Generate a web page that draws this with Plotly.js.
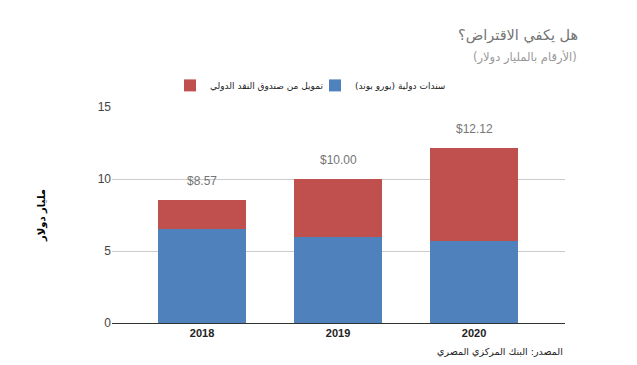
<!DOCTYPE html>
<html>
<head>
<meta charset="utf-8">
<script src="https://cdn.plot.ly/plotly-3.0.1.min.js"></script>
<style>html,body{margin:0;padding:0;background:#fff;}#chart{width:637px;height:365px;}</style>
</head>
<body>
<div id="chart"></div>
<script>
const years = ['2018', '2019', '2020'];
const eurobonds = [6.50, 6.00, 5.70];
const imfFunding = [2.07, 4.00, 6.42];
const seriesNames = ['سندات دولية (يورو بوند)', 'تمويل من صندوق النقد الدولي'];
const yTicks = [0, 5, 10, 15];

const totals = years.map((_, i) => eurobonds[i] + imfFunding[i]);
const latin = 'Liberation Sans, Arial, DejaVu Sans, sans-serif';
const arabic = 'DejaVu Sans, sans-serif';

const traces = [
  {type: 'bar', x: years, y: eurobonds, name: seriesNames[0], marker: {color: '#4F81BD'}, hoverinfo: 'none'},
  {type: 'bar', x: years, y: imfFunding, name: seriesNames[1], marker: {color: '#C0504D'}, hoverinfo: 'none'}
];

const annotations = years.map((yr, i) => ({
  x: i, y: totals[i], xref: 'x', yref: 'y', text: '$' + totals[i].toFixed(2),
  showarrow: false, yanchor: 'bottom', yshift: 10,
  font: {family: latin, size: 12, color: '#757575'}
}));

annotations.push(
  {xref: 'paper', yref: 'paper', x: 1.034, y: 1.33, xanchor: 'right', yanchor: 'middle', showarrow: false,
   text: 'هل يكفي الاقتراض؟', font: {family: arabic, size: 14.5, color: '#757575'}},
  {xref: 'paper', yref: 'paper', x: 1.03, y: 1.23, xanchor: 'right', yanchor: 'middle', showarrow: false,
   text: '(الأرقام بالمليار دولار)', font: {family: arabic, size: 11.5, color: '#999'}},
  {xref: 'paper', yref: 'paper', x: 1.0, y: -0.13, xanchor: 'right', yanchor: 'middle', showarrow: false,
   text: 'المصدر: البنك المركزي المصري', font: {family: arabic, size: 9.5, color: '#222'}}
);

const layout = {
  width: 637, height: 365,
  margin: {l: 112, r: 72, t: 107, b: 42},
  paper_bgcolor: '#fff', plot_bgcolor: '#fff',
  barmode: 'stack', bargap: 0.353,
  showlegend: true,
  legend: {orientation: 'h', traceorder: 'reversed', x: 0.128, xanchor: 'left', y: 1.1, yanchor: 'middle',
           font: {family: arabic, size: 9, color: '#222'}, entrywidth: 100, entrywidthmode: 'pixels'},
  xaxis: {type: 'category', range: [-0.662, 2.669], showgrid: false, showline: true, linecolor: '#333', linewidth: 1,
          tickfont: {family: latin, size: 11, color: '#222', weight: 'bold'}, ticks: '', fixedrange: true},
  yaxis: {range: [0, 15], tickvals: yTicks, ticktext: yTicks.map(String), showgrid: true, gridcolor: '#cccccc',
          zeroline: true, zerolinecolor: '#333', showline: false, ticks: '',
          tickfont: {family: latin, size: 12, color: '#444'},
          title: {text: 'مليار دولار', standoff: 50, font: {family: arabic, size: 10, color: '#000', weight: 'bold'}}},
  annotations: annotations,
  font: {family: latin}
};

Plotly.newPlot('chart', traces, layout, {displayModeBar: false, staticPlot: true});
</script>
</body>
</html>
